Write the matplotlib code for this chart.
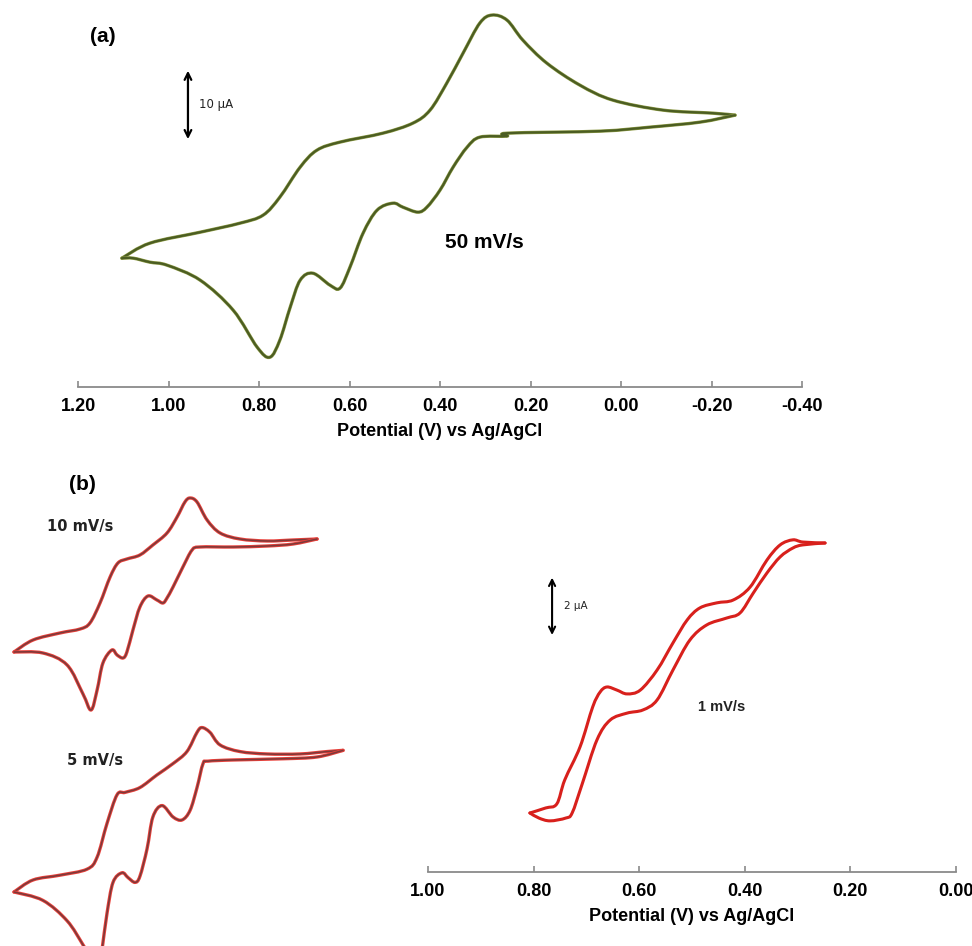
import numpy as np
import matplotlib
matplotlib.use("Agg")
from matplotlib import pyplot as plt
from matplotlib.path import Path
from matplotlib.patches import PathPatch

# ---- panel (a): 50 mV/s, potential (V) and current (uA) ----
a_fwd_v = [1.103, 1.041, 0.930, 0.842, 0.791, 0.754, 0.709, 0.672, 0.621, 0.526,
           0.460, 0.422, 0.385, 0.349, 0.312, 0.285, 0.252, 0.217, 0.164, 0.091,
           0.018, -0.093, -0.203, -0.252]
a_fwd_i = [0.0, 2.03, 3.51, 4.73, 5.81, 8.24, 12.30, 14.59, 15.68, 16.89,
           18.24, 20.0, 23.65, 27.70, 31.76, 32.84, 32.16, 29.46, 26.35, 23.38,
           21.35, 20.0, 19.59, 19.32]
a_rev_v = [-0.252, -0.175, -0.064, 0.046, 0.250, 0.252, 0.312, 0.340, 0.371, 0.400,
           0.429, 0.449, 0.482, 0.504, 0.539, 0.570, 0.599, 0.621, 0.643, 0.681,
           0.709, 0.731, 0.754, 0.776, 0.804, 0.857, 0.930, 1.003, 1.041, 1.078, 1.103]
a_rev_i = [19.32, 18.38, 17.70, 17.16, 16.89, 16.49, 16.35, 15.0, 12.30, 9.19,
           6.89, 6.22, 6.89, 7.43, 6.49, 3.38, -1.22, -4.05, -3.65, -2.03,
           -2.97, -6.62, -11.08, -13.38, -12.03, -7.03, -2.97, -0.95, -0.54, 0.0, 0.0]

# ---- panel (b), 10 mV/s ----
b10_fwd_v = [1.100, 1.015, 0.895, 0.805, 0.761, 0.716, 0.671, 0.636, 0.596, 0.538,
             0.480, 0.417, 0.372, 0.337, 0.314, 0.283, 0.238, 0.180, 0.091, -0.030,
             -0.146, -0.253]
b10_fwd_i = [0.0, 1.2, 1.9, 2.3, 2.9, 4.9, 7.5, 8.9, 9.3, 9.7,
             10.7, 11.9, 13.5, 15.0, 15.4, 15.0, 13.2, 11.9, 11.3, 11.1,
             11.2, 11.3]
b10_rev_v = [-0.253, -0.146, -0.030, 0.122, 0.270, 0.305, 0.346, 0.390, 0.417, 0.435,
             0.462, 0.502, 0.538, 0.569, 0.596, 0.613, 0.640, 0.663, 0.703, 0.729,
             0.756, 0.792, 0.863, 0.971, 1.100]
b10_rev_i = [11.3, 10.8, 10.6, 10.5, 10.5, 10.2, 8.5, 6.5, 5.4, 4.9,
             5.2, 5.6, 4.5, 2.2, 0.0, -0.6, -0.3, 0.2, -1.1, -3.8,
             -5.8, -4.2, -1.3, -0.1, 0.0]

# ---- panel (b), 5 mV/s ----
b5_fwd_v = [1.100, 1.015, 0.895, 0.774, 0.729, 0.685, 0.640, 0.604, 0.538, 0.462,
            0.390, 0.328, 0.283, 0.261, 0.225, 0.180, 0.091, -0.030, -0.177, -0.297,
            -0.369]
b5_fwd_i = [0.0, 1.0, 1.4, 1.9, 2.9, 5.7, 8.1, 8.3, 8.7, 9.75,
            10.7, 11.7, 13.3, 13.7, 13.3, 12.25, 11.7, 11.5, 11.5, 11.7,
            11.8]
b5_rev_v = [-0.369, -0.253, -0.101, 0.122, 0.234, 0.256, 0.283, 0.314, 0.350, 0.390,
            0.439, 0.480, 0.506, 0.538, 0.560, 0.591, 0.618, 0.658, 0.685, 0.707,
            0.725, 0.752, 0.792, 0.863, 0.971, 1.100]
b5_rev_i = [11.8, 11.25, 11.1, 11.0, 10.9, 10.7, 8.7, 6.8, 6.0, 6.25,
            7.2, 6.25, 3.6, 1.3, 0.8, 1.2, 1.6, 0.8, -1.8, -4.8,
            -6.9, -5.7, -4.4, -2.4, -0.7, 0.0]

# ---- panel (b), 1 mV/s ----
b1_fwd_v = [0.807, 0.777, 0.756, 0.741, 0.712, 0.688, 0.674, 0.661, 0.642, 0.623,
            0.598, 0.566, 0.536, 0.509, 0.485, 0.453, 0.422, 0.390, 0.358, 0.333,
            0.309, 0.290, 0.248]
b1_fwd_i = [0.0, 0.16, 0.29, 1.05, 2.10, 3.37, 3.84, 4.0, 3.90, 3.78,
            3.90, 4.54, 5.40, 6.13, 6.51, 6.67, 6.76, 7.17, 8.03, 8.51,
            8.67, 8.60, 8.57]
b1_rev_v = [0.248, 0.290, 0.309, 0.333, 0.358, 0.384, 0.409, 0.434, 0.472, 0.504,
            0.536, 0.566, 0.593, 0.623, 0.655, 0.680, 0.708, 0.727, 0.739, 0.769,
            0.790, 0.807]
b1_rev_i = [8.57, 8.51, 8.41, 8.13, 7.62, 6.98, 6.35, 6.19, 5.97, 5.49,
            4.54, 3.59, 3.27, 3.17, 2.95, 2.32, 0.92, 0.0, -0.16, -0.25,
            -0.16, 0.0]

ticks_a = [1.20, 1.00, 0.80, 0.60, 0.40, 0.20, 0.00, -0.20, -0.40]
ticks_b = [1.00, 0.80, 0.60, 0.40, 0.20, 0.00]
xlabel = "Potential (V) vs Ag/AgCl"

W, H = 972, 946
tickfont = dict(family="Liberation Sans", size=13, weight="bold")


def px_axes(fig, left, top, right, bottom):
    return fig.add_axes([left / W, 1 - bottom / H, (right - left) / W, (bottom - top) / H])


def style_axis(ax, ticks):
    for s in ["top", "left", "right"]:
        ax.spines[s].set_visible(False)
    ax.spines["bottom"].set_color("#8a8a8a")
    ax.spines["bottom"].set_linewidth(1.3)
    ax.set_yticks([])
    ax.set_xticks(ticks)
    ax.set_xticklabels(["%.2f" % t for t in ticks], fontdict=tickfont)
    ax.tick_params(axis="x", direction="in", length=4, width=1.2, color="#8a8a8a", pad=8)
    ax.set_xlabel(xlabel, fontdict=tickfont, labelpad=6)
    ax.patch.set_alpha(0)


def blank(ax):
    ax.set_axis_off()
    ax.patch.set_alpha(0)


def curve(ax, v, i, **kw):
    # smooth drawing through the read points (cubic segments, Catmull-Rom handles)
    p = np.column_stack([v, i])
    n = len(p)
    verts = [p[0]]
    codes = [Path.MOVETO]
    for k in range(n - 1):
        p0 = p[k - 1] if k > 0 else p[k]
        p3 = p[k + 2] if k + 2 < n else p[k + 1]
        verts += [p[k] + (p[k + 1] - p0) / 6, p[k + 1] - (p3 - p[k]) / 6, p[k + 1]]
        codes += [Path.CURVE4] * 3
    patch = PathPatch(Path(verts, codes), fill=False, capstyle="round", joinstyle="round", **kw)
    ax.add_patch(patch)


fig = plt.figure(figsize=(W / 100, H / 100), dpi=100)
fig.patch.set_facecolor("white")

# panel (a)
ax1 = px_axes(fig, 78, 5, 802, 387)
ax1.set_xlim(1.2, -0.4)
ax1.set_ylim(-17.4, 34.2)
style_axis(ax1, ticks_a)
green = "#4b5d22"
for v, i in [(a_fwd_v, a_fwd_i), (a_rev_v, a_rev_i)]:
    curve(ax1, v, i, edgecolor="#8d9a45", lw=2.4)
    curve(ax1, v, i, edgecolor=green, lw=1.6)
ax1.annotate("", xy=(0.957, 25.7), xytext=(0.957, 15.7),
             arrowprops=dict(arrowstyle="<->", lw=1.6, color="black", mutation_scale=12))
ax1.text(0.933, 20.7, "10 \u03bcA", fontsize=8.5, va="center", ha="left", color="#222222")
ax1.text(0.303, 2.16, "50 mV/s", fontsize=15, weight="bold", family="Liberation Sans",
         ha="center", va="center")
fig.text(103 / W, 1 - 37 / H, "(a)", fontsize=15, weight="bold", family="Liberation Sans",
         ha="center", va="center")

# panel (b), left: 10 and 5 mV/s
ax2 = px_axes(fig, 0, 480, 360, 720)
ax2.set_xlim(1.1625, -0.4446)
ax2.set_ylim(-6.8, 17.2)
blank(ax2)
ax3 = px_axes(fig, 0, 720, 360, 1000)
ax3.set_xlim(1.1625, -0.4446)
ax3.set_ylim(-9.0, 14.33)
blank(ax3)
for ax, fv, fi, rv, ri in [(ax2, b10_fwd_v, b10_fwd_i, b10_rev_v, b10_rev_i),
                           (ax3, b5_fwd_v, b5_fwd_i, b5_rev_v, b5_rev_i)]:
    for v, i in [(fv, fi), (rv, ri)]:
        curve(ax, v, i, edgecolor="#e8403a", lw=2.4, clip_on=False)
        curve(ax, v, i, edgecolor="#7a3a3a", lw=1.1, clip_on=False)
fig.text(82 / W, 1 - 484 / H, "(b)", fontsize=15, weight="bold", family="Liberation Sans",
         ha="center", va="center")
fig.text(80 / W, 1 - 527 / H, "10 mV/s", fontsize=10.5, weight="bold", family="DejaVu Sans",
         ha="center", va="center", color="#222222")
fig.text(95 / W, 1 - 760 / H, "5 mV/s", fontsize=10.5, weight="bold", family="DejaVu Sans",
         ha="center", va="center", color="#222222")

# panel (b), right: 1 mV/s
ax4 = px_axes(fig, 428, 520, 956, 872)
ax4.set_xlim(1.0, 0.0)
ax4.set_ylim(-1.873, 9.30)
style_axis(ax4, ticks_b)
red = "#d8201c"
for v, i in [(b1_fwd_v, b1_fwd_i), (b1_rev_v, b1_rev_i)]:
    curve(ax4, v, i, edgecolor=red, lw=2.2)
ax4.annotate("", xy=(0.765, 7.56), xytext=(0.765, 5.56),
             arrowprops=dict(arrowstyle="<->", lw=1.5, color="black", mutation_scale=11))
ax4.text(0.742, 6.56, "2 \u03bcA", fontsize=7.5, va="center", ha="left", color="#222222")
ax4.text(0.443, 3.37, "1 mV/s", fontsize=10.5, weight="bold", family="Liberation Sans",
         ha="center", va="center", color="#222222")

fig.savefig("out.png", dpi=100, facecolor="white")
